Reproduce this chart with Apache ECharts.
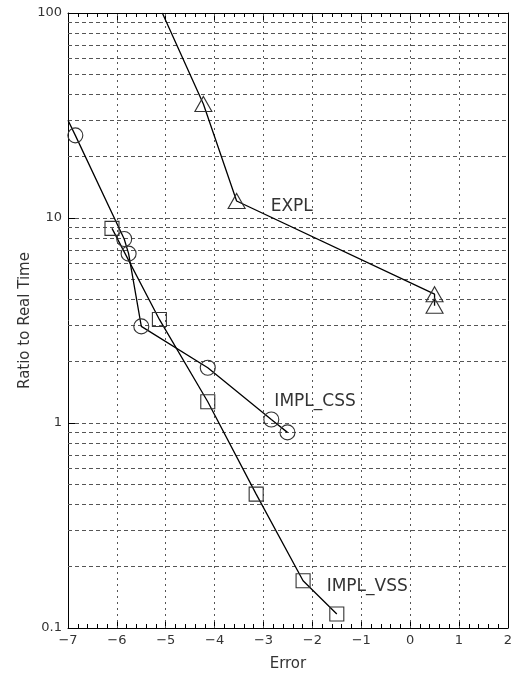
<!DOCTYPE html>
<html>
<head>
<meta charset="utf-8">
<title>Ratio to Real Time vs Error</title>
<script type="text/javascript" src="https://cdn.jsdelivr.net/npm/echarts@6/dist/echarts.min.js"></script>
<style>html,body{margin:0;padding:0;background:#fff;}</style>
</head>
<body>
<div id="chartmain" style="width:515px; height:677px;"></div>
<script type="text/javascript">
    // 三组数据: 误差 (x) 与 实时比 (y, 对数)
    var explErr   = [-5.07, -4.23, -3.55, 0.50, 0.50];
    var explRatio = [100, 36, 12.1, 4.25, 3.73];
    var cssErr    = [-7.0, -6.85, -5.85, -5.76, -5.50, -4.14, -2.84, -2.51];
    var cssRatio  = [30, 25.3, 7.9, 6.7, 2.96, 1.86, 1.04, 0.90];
    var vssErr    = [-6.10, -5.13, -4.14, -3.15, -2.19, -1.50];
    var vssRatio  = [8.9, 3.2, 1.27, 0.45, 0.17, 0.117];

    // 线段延伸出图框的端点, 不画符号
    var explHidden = [0];
    var cssHidden  = [0];

    var seriesNames = ['EXPL', 'IMPL_CSS', 'IMPL_VSS'];
    var labelIndex  = [2, 6, 4];

    // 网格线: x 每个整数, y 对数轴上 2..9
    var xGrid = [-6, -5, -4, -3, -2, -1, 0, 1];
    var yDecades = [0.1, 1, 10];
    var yMinor = [];
    yDecades.forEach(function (d) {
        for (var k = 2; k <= 9; k++) yMinor.push(+(d * k).toPrecision(3));
    });

    var FONT = 'DejaVu Sans, Verdana, sans-serif';
    var TXT = '#333';

    function makeData(xs, ys, hidden, li, name, offset) {
        return xs.map(function (x, i) {
            var item = { value: [x, ys[i]] };
            if (hidden.indexOf(i) >= 0) item.symbol = 'none';
            if (i === li) {
                item.label = {
                    show: true, position: 'right', distance: 0, offset: offset,
                    formatter: name, color: TXT, fontSize: 17, fontFamily: FONT
                };
            }
            return item;
        });
    }

    function lineSeries(data, symbol, size) {
        return {
            type: 'line',
            data: data,
            symbol: symbol,
            symbolSize: size,
            showAllSymbol: true,
            clip: true,
            z: 5,
            lineStyle: { color: '#000', width: 1.3 },
            itemStyle: { color: 'rgba(0,0,0,0)', borderColor: '#333', borderWidth: 1.1 },
            label: { show: false },
            emphasis: { disabled: true },
            animation: false
        };
    }

    function gridLines(list, key, dash) {
        return {
            type: 'line', data: [], silent: true, z: 1,
            markLine: {
                silent: true, symbol: 'none', animation: false,
                label: { show: false },
                lineStyle: { color: '#555', type: dash, width: 1 },
                emphasis: { disabled: true },
                data: list.map(function (v) { var o = {}; o[key] = v; return o; })
            }
        };
    }

    var option = {
        animation: false,
        grid: { left: 68, right: 5, top: 13, bottom: 47 },
        xAxis: [{
            type: 'value', min: -7, max: 2, interval: 1, position: 'bottom',
            name: 'Error', nameLocation: 'middle', nameGap: 29,
            nameTextStyle: { color: TXT, fontSize: 15, fontFamily: FONT },
            axisLine: { show: true, onZero: false, lineStyle: { color: '#000', width: 1 } },
            axisTick: { show: true, inside: true, length: 7, lineStyle: { color: '#000' } },
            minorTick: { show: true, splitNumber: 5, length: 4, lineStyle: { color: '#000' } },
            axisLabel: {
                color: TXT, fontSize: 13, fontFamily: FONT, margin: 6,
                formatter: function (v) { return v < 0 ? '\u2212' + Math.abs(v) : String(v); }
            },
            splitLine: { show: false }
        }, {
            type: 'value', min: -7, max: 2, interval: 1, position: 'top',
            axisLine: { show: true, onZero: false, lineStyle: { color: '#000', width: 1 } },
            axisTick: { show: true, inside: true, length: 7, lineStyle: { color: '#000' } },
            minorTick: { show: true, splitNumber: 5, length: 4, lineStyle: { color: '#000' } },
            axisLabel: { show: false },
            splitLine: { show: false }
        }],
        yAxis: [{
            type: 'log', logBase: 10, min: 0.1, max: 100,
            name: 'Ratio to Real Time', nameLocation: 'middle', nameGap: 35,
            nameMoveOverlap: false,
            nameTextStyle: { color: TXT, fontSize: 15, fontFamily: FONT },
            axisLine: { show: true, onZero: false, lineStyle: { color: '#000', width: 1 } },
            axisTick: { show: true, inside: true, length: 7, lineStyle: { color: '#000' } },
            axisLabel: {
                color: TXT, fontSize: 13, fontFamily: FONT, margin: 6,
                formatter: function (v) { return String(+v.toPrecision(3)); }
            },
            splitLine: { show: true, lineStyle: { color: '#555', type: [4, 3], width: 1 } }
        }, {
            type: 'value', min: 0, max: 1, position: 'right',
            axisLine: { show: true, onZero: false, lineStyle: { color: '#000', width: 1 } },
            axisTick: { show: false }, axisLabel: { show: false }, splitLine: { show: false }
        }],
        series: [
            lineSeries(makeData(explErr, explRatio, explHidden, labelIndex[0], seriesNames[0], [25, 6]), 'triangle', [17, 15]),
            lineSeries(makeData(cssErr, cssRatio, cssHidden, labelIndex[1], seriesNames[1], [-5, -18]), 'circle', 15),
            lineSeries(makeData(vssErr, vssRatio, [], labelIndex[2], seriesNames[2], [16, 6]), 'rect', 14),
            gridLines(yMinor, 'yAxis', [4, 3]),
            gridLines(xGrid, 'xAxis', [2, 4])
        ]
    };

    var myChart = echarts.init(document.getElementById('chartmain'));
    myChart.setOption(option);
</script>
</body>
</html>
